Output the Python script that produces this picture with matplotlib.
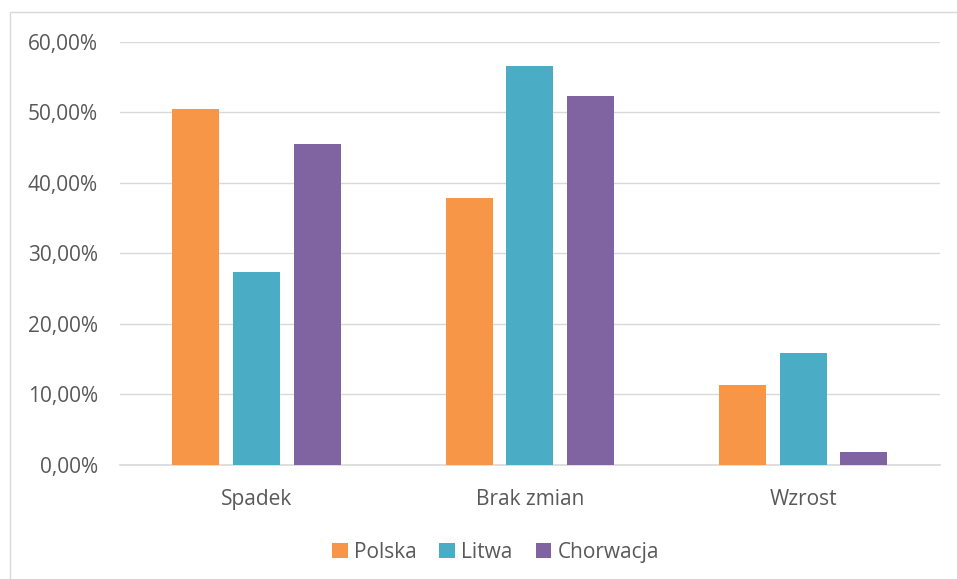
import numpy as np
import matplotlib.pyplot as plt
from matplotlib.patches import Rectangle
from matplotlib.ticker import FuncFormatter

categories = ['Spadek', 'Brak zmian', 'Wzrost']
series = ['Polska', 'Litwa', 'Chorwacja']
polska = [50.5, 37.9, 11.3]
litwa = [27.4, 56.6, 15.9]
chorwacja = [45.5, 52.3, 1.8]
colors = ['#F79646', '#4BACC6', '#8064A2']

plt.rcParams['font.family'] = ['Open Sans', 'DejaVu Sans']
text_color = '#595959'

fig = plt.figure(figsize=(9.57, 5.79), dpi=100)
ax = fig.add_axes([0.1254, 0.197, 0.8566, 0.7305])

# light chart border
fig.patches.append(Rectangle((10 / 957, -0.01), 1.2, 1 - 12 / 579 + 0.01,
                             transform=fig.transFigure, fill=False,
                             edgecolor='#D9D9D9', linewidth=1))

x = np.arange(len(categories))
width = 0.172
step = 0.222
for i, (name, vals) in enumerate(zip(series, [polska, litwa, chorwacja])):
    ax.bar(x + (i - 1) * step, vals, width, color=colors[i], label=name, zorder=3)

ax.set_xlim(-0.5, 2.5)
ax.set_ylim(0, 60)
ax.set_yticks(np.arange(0, 61, 10))
ax.yaxis.set_major_formatter(FuncFormatter(lambda v, p: f'{v:.2f}%'.replace('.', ',')))
ax.set_xticks(x)
ax.set_xticklabels(categories)

ax.grid(axis='y', color='#D9D9D9', linewidth=1, zorder=0)
for s in ['top', 'right', 'left']:
    ax.spines[s].set_visible(False)
ax.spines['bottom'].set_color('#D9D9D9')
ax.spines['bottom'].set_linewidth(1.2)
ax.tick_params(axis='both', length=0, colors=text_color, labelsize=15)
ax.tick_params(axis='y', pad=16)
ax.tick_params(axis='x', pad=17)

leg = ax.legend(loc='upper center', bbox_to_anchor=(0.458, -0.137), ncol=3, frameon=False,
                fontsize=15, handlelength=0.75, handleheight=0.75, handletextpad=0.3,
                columnspacing=1.1)
for t in leg.get_texts():
    t.set_color(text_color)

fig.savefig('out.png', dpi=100)
